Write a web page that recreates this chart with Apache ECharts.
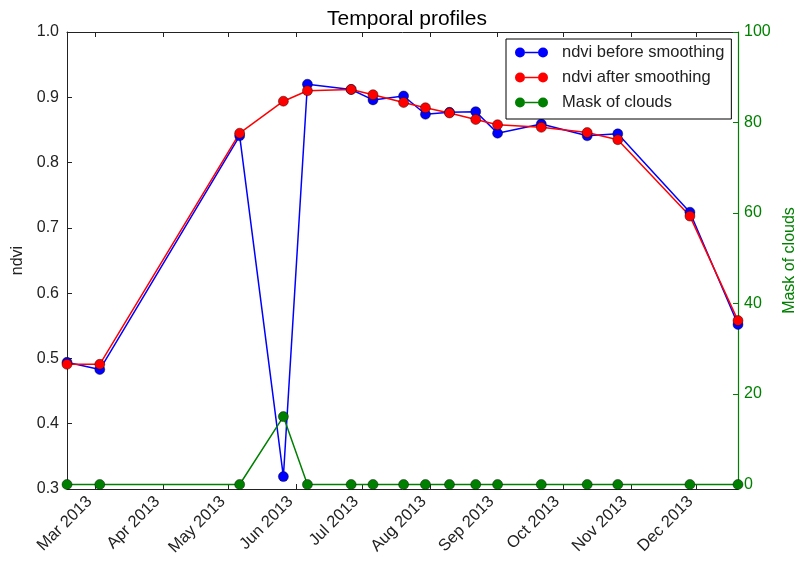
<!DOCTYPE html>
<html>
<head>
<meta charset="utf-8">
<script src="https://cdn.jsdelivr.net/npm/echarts@6/dist/echarts.min.js"></script>
<style>
  html, body { margin: 0; padding: 0; background: #fff; }
  #chart { width: 794px; height: 565px; }
</style>
</head>
<body>
<div id="chart"></div>
<script>
// ---- data ----
const dates = ['2013-02-16', '2013-03-03', '2013-05-06', '2013-05-26', '2013-06-06', '2013-06-26',
  '2013-07-06', '2013-07-20', '2013-07-30', '2013-08-10', '2013-08-22', '2013-09-01',
  '2013-09-21', '2013-10-12', '2013-10-26', '2013-11-28', '2013-12-20'];
const ndviBefore = [0.494, 0.483, 0.841, 0.319, 0.920, 0.912, 0.896, 0.902, 0.874, 0.877, 0.878, 0.845,
  0.859, 0.841, 0.844, 0.724, 0.552];
const ndviAfter = [0.491, 0.491, 0.845, 0.894, 0.910, 0.912, 0.904, 0.892, 0.884, 0.876, 0.866, 0.858,
  0.854, 0.846, 0.835, 0.718, 0.558];
const cloudMask = [0, 0, 0, 15, 0, 0, 0, 0, 0, 0, 0, 0, 0, 0, 0, 0, 0];
const monthTicks = ['2013-03-01', '2013-04-01', '2013-05-01', '2013-06-01', '2013-07-01', '2013-08-01',
  '2013-09-01', '2013-10-01', '2013-11-01', '2013-12-01'];
const monthLabels = ['Mar 2013', 'Apr 2013', 'May 2013', 'Jun 2013', 'Jul 2013', 'Aug 2013',
  'Sep 2013', 'Oct 2013', 'Nov 2013', 'Dec 2013'];
const ndviTicks = [0.3, 0.4, 0.5, 0.6, 0.7, 0.8, 0.9, 1.0];
const maskTicks = [0, 20, 40, 60, 80, 100];

// ---- build ----
function toTime(s) { const p = s.split('-').map(Number); return Date.UTC(p[0], p[1] - 1, p[2]); }
const times = dates.map(toTime);
const tickTimes = monthTicks.map(toTime);
const labelByTime = {};
tickTimes.forEach((t, i) => { labelByTime[t] = monthLabels[i]; });

const FONT = 'Liberation Sans, Arial, sans-serif';
const DARK = '#222';
const GREEN = '#008000';
const legendIcon = 'path://M0,5A5,5,0,1,1,10,5A5,5,0,1,1,0,5Z M23,5A5,5,0,1,1,33,5A5,5,0,1,1,23,5Z M10,4.25L23,4.25L23,5.75L10,5.75Z';

function pairs(vals) { return times.map((t, i) => [t, vals[i]]); }

const chart = echarts.init(document.getElementById('chart'), null, { renderer: 'canvas' });
chart.setOption({
  animation: false,
  backgroundColor: '#fff',
  textStyle: { fontFamily: FONT },
  title: {
    text: 'Temporal profiles',
    left: 402, top: 4, textAlign: 'center',
    textStyle: { fontSize: 21, fontWeight: 'normal', color: '#000', fontFamily: FONT }
  },
  grid: { left: 67, top: 32, right: 56, bottom: 76, containLabel: false, outerBoundsMode: 'none' },
  legend: {
    orient: 'vertical', left: 506, top: 39,
    itemWidth: 33, itemHeight: 10, itemGap: 8,
    padding: [5, 7, 8, 9],
    borderColor: '#000', borderWidth: 1, backgroundColor: '#fff',
    textStyle: { fontSize: 16.5, color: DARK, fontFamily: FONT, padding: [0, 0, 0, 9] },
    itemStyle: { borderWidth: 0 },
    data: [
      { name: 'ndvi before smoothing', icon: legendIcon },
      { name: 'ndvi after smoothing', icon: legendIcon },
      { name: 'Mask of clouds', icon: legendIcon }
    ]
  },
  xAxis: [
    {
      type: 'value', position: 'bottom', min: times[0], max: times[times.length - 1],
      axisLine: { show: true, onZero: false, lineStyle: { color: DARK, width: 1 } },
      axisTick: { show: true, inside: true, length: 5, customValues: tickTimes, lineStyle: { color: DARK } },
      axisLabel: {
        customValues: tickTimes, rotate: 45, fontSize: 16.5, color: DARK, margin: 16, fontFamily: FONT,
        align: 'right', verticalAlign: 'bottom',
        formatter: (v) => labelByTime[v] || ''
      },
      splitLine: { show: false }
    },
    {
      type: 'value', position: 'top', min: times[0], max: times[times.length - 1],
      axisLine: { show: true, onZero: false, lineStyle: { color: DARK, width: 1 } },
      axisTick: { show: true, inside: true, length: 5, customValues: tickTimes, lineStyle: { color: DARK } },
      axisLabel: { show: false },
      splitLine: { show: false }
    }
  ],
  yAxis: [
    {
      type: 'value', position: 'left', min: ndviTicks[0], max: ndviTicks[ndviTicks.length - 1], interval: 0.1,
      name: 'ndvi', nameLocation: 'middle', nameGap: 39, nameRotate: 90,
      nameTextStyle: { fontSize: 16, color: DARK, fontFamily: FONT },
      axisLine: { show: true, lineStyle: { color: DARK, width: 1 } },
      axisTick: { show: true, inside: true, length: 5, lineStyle: { color: DARK } },
      axisLabel: { fontSize: 16, color: DARK, margin: 8, fontFamily: FONT, formatter: (v) => v.toFixed(1) },
      splitLine: { show: false }
    },
    {
      type: 'value', position: 'right', min: -1, max: 100,
      name: 'Mask of clouds', nameLocation: 'middle', nameGap: 35, nameRotate: 90,
      nameTextStyle: { fontSize: 16, color: GREEN, fontFamily: FONT },
      axisLine: { show: true, lineStyle: { color: GREEN, width: 1.2 } },
      axisTick: { show: true, inside: true, length: 5, customValues: maskTicks, lineStyle: { color: GREEN } },
      axisLabel: { customValues: maskTicks, fontSize: 16, color: GREEN, margin: 6, fontFamily: FONT },
      splitLine: { show: false }
    }
  ],
  series: [
    {
      name: 'ndvi before smoothing', type: 'line', xAxisIndex: 0, yAxisIndex: 0,
      data: pairs(ndviBefore), symbol: 'circle', symbolSize: 10,
      lineStyle: { color: '#0000ff', width: 1.5 },
      itemStyle: { color: '#0000ff', borderColor: 'rgba(0,0,0,0.7)', borderWidth: 0.6 }
    },
    {
      name: 'ndvi after smoothing', type: 'line', xAxisIndex: 0, yAxisIndex: 0,
      data: pairs(ndviAfter), symbol: 'circle', symbolSize: 10,
      lineStyle: { color: '#ff0000', width: 1.5 },
      itemStyle: { color: '#ff0000', borderColor: 'rgba(0,0,0,0.7)', borderWidth: 0.6 }
    },
    {
      name: 'Mask of clouds', type: 'line', xAxisIndex: 0, yAxisIndex: 1,
      data: pairs(cloudMask), symbol: 'circle', symbolSize: 10,
      lineStyle: { color: GREEN, width: 1.5 },
      itemStyle: { color: GREEN, borderColor: 'rgba(0,0,0,0.7)', borderWidth: 0.6 }
    }
  ]
});
</script>
</body>
</html>
